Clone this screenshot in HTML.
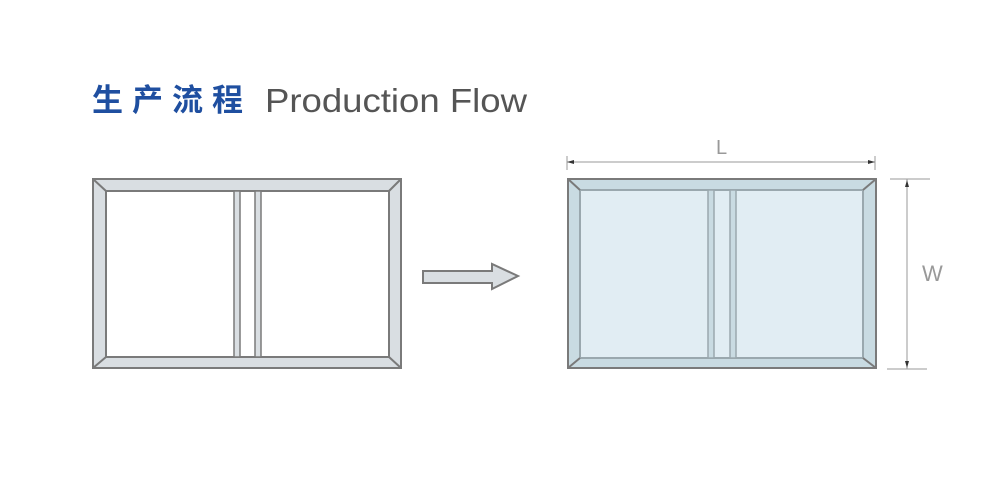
<!DOCTYPE html>
<html><head><meta charset="utf-8"><style>html,body{margin:0;padding:0;background:#fff;}svg{display:block}</style></head>
<body>
<svg width="1000" height="487" viewBox="0 0 1000 487" xmlns="http://www.w3.org/2000/svg">
<text x="92" y="111" font-family="'Noto Sans CJK SC', sans-serif" font-size="31" font-weight="bold" fill="#1f4fa0" textLength="151" lengthAdjust="spacing">生产流程</text>
<text x="265" y="112" font-family="'Liberation Sans', sans-serif" font-size="33" fill="#555" textLength="262" lengthAdjust="spacingAndGlyphs">Production Flow</text>

<!-- left frame -->
<g stroke="#7a7a7a" stroke-width="2" fill="#d9dee2">
<rect x="93" y="179" width="308" height="189"/>
<rect x="106" y="191" width="283" height="166" fill="#fff"/>
<line x1="93" y1="179" x2="106" y2="191"/><line x1="401" y1="179" x2="389" y2="191"/>
<line x1="93" y1="368" x2="106" y2="357"/><line x1="401" y1="368" x2="389" y2="357"/>
<rect x="234" y="191" width="6" height="166" stroke-width="1.5"/>
<rect x="255" y="191" width="6" height="166" stroke-width="1.5"/>
</g>

<!-- arrow -->
<polygon points="423,271 492,271 492,264 518,276 492,289 492,283 423,283" fill="#d9dee2" stroke="#7a7a7a" stroke-width="2"/>

<!-- right frame -->
<g stroke="#7a7a7a" stroke-width="2" fill="#c9dbe2">
<rect x="568" y="179" width="308" height="189"/>
<rect x="580" y="190" width="283" height="168" fill="#e1edf3" stroke="#9aa8ae"/>
<line x1="568" y1="179" x2="580" y2="190"/><line x1="876" y1="179" x2="863" y2="190"/>
<line x1="568" y1="368" x2="580" y2="358"/><line x1="876" y1="368" x2="863" y2="358"/>
<rect x="708" y="190" width="6" height="168" stroke="#9aa8ae" stroke-width="1.5"/>
<rect x="730" y="190" width="6" height="168" stroke="#9aa8ae" stroke-width="1.5"/>
</g>

<!-- dimensions -->
<g stroke="#999" stroke-width="1">
<line x1="567" y1="156" x2="567" y2="170"/><line x1="875" y1="156" x2="875" y2="170"/>
<line x1="567" y1="162" x2="875" y2="162"/>
<line x1="890" y1="179" x2="930" y2="179"/><line x1="887" y1="369" x2="927" y2="369"/>
<line x1="907" y1="179" x2="907" y2="369"/>
</g>
<g fill="#333">
<polygon points="567,162 574,160 574,164"/><polygon points="875,162 868,160 868,164"/>
<polygon points="907,180 905,187 909,187"/><polygon points="907,368 905,361 909,361"/>
</g>
<text x="716" y="154" font-family="'Liberation Sans', sans-serif" font-size="20" fill="#999">L</text>
<text x="922" y="281" font-family="'Liberation Sans', sans-serif" font-size="22" fill="#999">W</text>
</svg>
</body></html>
